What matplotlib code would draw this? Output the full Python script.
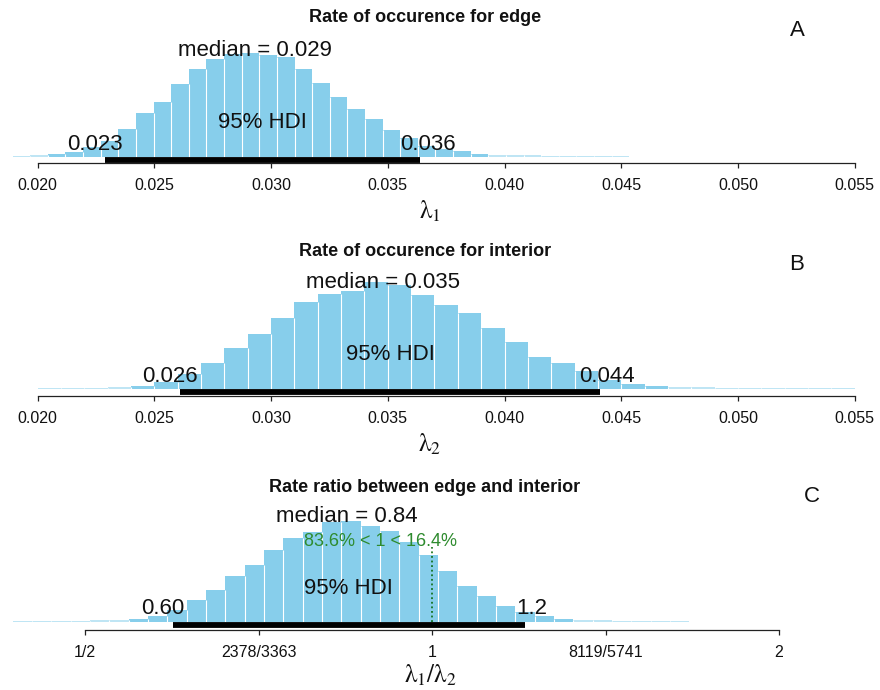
import numpy as np
import matplotlib
matplotlib.use('Agg')
import matplotlib.pyplot as plt
from matplotlib.transforms import ScaledTranslation

plt.rcParams['font.family'] = ['Liberation Sans', 'DejaVu Sans']
plt.rcParams['mathtext.fontset'] = 'stix'

###############################################################
# posterior samples, binned (relative bar heights)
###############################################################
# lambda_1 : edge
edge_bin_start = 0.018923
edge_bin_width = 0.000755
edge_counts = [1.5, 2.0, 3.5, 5, 10, 16, 28, 44, 55, 73, 88, 98, 103, 104,
               102, 100, 88, 74, 60, 48.5, 38, 27, 19, 11.5, 8, 6, 3.5,
               2.4, 1.8, 1.6, 1.4, 1.3, 1.2, 1.1, 1.0]
edge_median = 0.0293
edge_hdi = [0.0229, 0.0364]

# lambda_2 : interior
int_bin_start = 0.020
int_bin_width = 0.001
int_counts = [1.0, 1.2, 1.5, 2.2, 3.5, 7, 15, 26, 41, 55, 71, 87, 95, 98,
              107, 104, 94, 84, 76, 61, 47, 32, 26, 18, 9, 5, 3, 2, 1.6,
              1.4, 1.3, 1.2, 1.1, 1.0, 1.0]
int_median = 0.0348
int_hdi = [0.0261, 0.0441]

# lambda_1 / lambda_2 (bins are even in log2)
ratio_bin_start = -1.20847
ratio_bin_width = 0.05571
ratio_counts = [1.0, 1.1, 1.2, 1.4, 1.7, 2.4, 3.5, 6.5, 12, 22, 32, 46, 57,
                72, 84, 90, 100, 101, 96, 91, 80, 67, 51, 36, 26.5, 16, 10,
                6.5, 3.5, 2.2, 1.6, 1.4, 1.2, 1.1, 1.0]
ratio_median = 0.844
ratio_hdi = [0.596, 1.204]
comp_val = 1
pct_below = 83.6
pct_above = 16.4

rate_ticks = [0.020, 0.025, 0.030, 0.035, 0.040, 0.045, 0.050, 0.055]
rate_ticklabels = ['0.020', '0.025', '0.030', '0.035', '0.040', '0.045',
                   '0.050', '0.055']
ratio_ticks = [0.5, 2 ** -0.5, 1, 2 ** 0.5, 2]
ratio_ticklabels = ['1/2', '2378/3363', '1', '8119/5741', '2']

titles = ['Rate of occurence for edge', 'Rate of occurence for interior',
          'Rate ratio between edge and interior']
xlabels = [r'$\mathrm{\lambda}_1$', r'$\mathrm{\lambda}_2$',
           r'$\mathrm{\lambda}_1/\mathrm{\lambda}_2$']
letters = ['A', 'B', 'C']

###############################################################
W, H = 880, 690
fig = plt.figure(figsize=(W / 100, H / 100), dpi=100)
BAR_COL = '#87CEEB'


def px_shift(ax, dx):
     return ax.transData + ScaledTranslation(dx / 100.0, 0, fig.dpi_scale_trans)


def plotPost(base, axis_gap, edges, counts, median, hdi, xlim, ticks,
             ticklabels, logx=False, top=150):
     ax = fig.add_axes([0, 1 - base / H, 1, top / H])
     if logx:
          ax.set_xscale('log', base=2)
     counts = np.asarray(counts, dtype=float)
     widths = np.diff(edges)
     # the thin tails come out paler than the body
     cols = [BAR_COL if c >= 2.5 else '#bfe5f4' for c in counts]
     ax.bar(edges[:-1], counts, width=widths, align='edge', color=cols,
            linewidth=0, zorder=1)
     # white separators between neighbouring bars
     sep_h = np.minimum(counts[:-1], counts[1:])
     ax.vlines(edges[1:-1], 0, sep_h, color='white', lw=0.8, zorder=1.5)
     ax.set_xlim(xlim)
     ax.set_ylim(0, top)
     # axis along the bottom, only between first and last tick
     for s in ['top', 'left', 'right']:
          ax.spines[s].set_visible(False)
     ax.spines['bottom'].set_position(('outward', axis_gap * 0.72))
     ax.spines['bottom'].set_bounds(ticks[0], ticks[-1])
     ax.spines['bottom'].set_linewidth(0.9)
     ax.spines['bottom'].set_color('#222222')
     ax.set_yticks([])
     ax.set_xticks(ticks)
     ax.set_xticklabels(ticklabels)
     ax.minorticks_off()
     ax.tick_params(axis='x', length=3.8, width=0.9, pad=7, labelsize=11.5,
                    colors='#222222', labelcolor='#111111')
     # HDI bar
     ax.plot(hdi, [-3, -3], color='black', lw=4.2, solid_capstyle='butt',
             clip_on=False, zorder=3)
     if logx:
          hdi_mid = np.sqrt(hdi[0] * hdi[1])
     else:
          hdi_mid = np.mean(hdi)
     ax.text(hdi_mid, 34, '95% HDI', ha='center', va='center', fontsize=16,
             color='#111111', zorder=4)
     ax.text(hdi[0], 13, format(hdi[0], '#.2g'), ha='center', va='center',
             fontsize=16, color='#111111', transform=px_shift(ax, -10), zorder=4)
     ax.text(hdi[1], 13, format(hdi[1], '#.2g'), ha='center', va='center',
             fontsize=16, color='#111111', transform=px_shift(ax, 7), zorder=4)
     ax.text(median, 106, 'median = ' + format(median, '.2g'), ha='center',
             va='center', fontsize=16, color='#111111', zorder=4)
     return ax


a_edges = edge_bin_start + edge_bin_width * np.arange(len(edge_counts) + 1)
b_edges = int_bin_start + int_bin_width * np.arange(len(int_counts) + 1)
c_edges = 2.0 ** (ratio_bin_start + ratio_bin_width * np.arange(len(ratio_counts) + 1))

rate_xlim = (0.020 - 37.7 / 23340, 0.020 + (W - 37.7) / 23340)
ratio_xlim = (2 ** (-432 / 347), 2 ** ((W - 432) / 347))

axA = plotPost(157, 6, a_edges, edge_counts, edge_median, edge_hdi,
               rate_xlim, rate_ticks, rate_ticklabels)
axB = plotPost(389, 7, b_edges, int_counts, int_median, int_hdi,
               rate_xlim, rate_ticks, rate_ticklabels)
axC = plotPost(622, 8, c_edges, ratio_counts, ratio_median, ratio_hdi,
               ratio_xlim, ratio_ticks, ratio_ticklabels, logx=True)

# comparison value for the ratio
axC.plot([comp_val, comp_val], [0, 75], color='darkgreen', lw=1.1,
         linestyle=(0, (1.2, 1.8)), zorder=2)
comp_txt = axC.text(comp_val, 80, '%.1f%% < %g < %.1f%%' % (pct_below, comp_val, pct_above),
                    ha='left', va='center', fontsize=13, color='#2e8b2e', zorder=4)
fig.canvas.draw()
tw = comp_txt.get_window_extent().width
comp_txt.set_transform(px_shift(axC, -tw * pct_below / 100.0))

# titles, axis labels and panel letters
title_y = [18, 252, 488]
xlab_y = [211, 444, 675]
letter_xy = [(797, 30), (797, 264), (812, 497)]
for ii in range(3):
     fig.text(425 / W, 1 - title_y[ii] / H, titles[ii], ha='center',
              va='center', fontsize=13, fontweight='bold', color='#111111')
     fig.text(430 / W, 1 - xlab_y[ii] / H, xlabels[ii], ha='center',
              va='center', fontsize=18, color='#111111')
     fig.text(letter_xy[ii][0] / W, 1 - letter_xy[ii][1] / H, letters[ii],
              ha='center', va='center', fontsize=16, color='#111111')

fig.savefig('out.png', dpi=100)
